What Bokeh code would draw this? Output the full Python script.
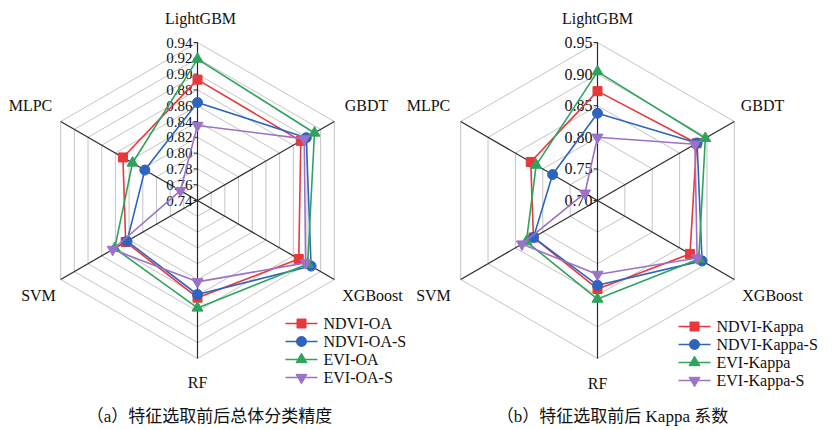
import numpy as np
from bokeh.plotting import figure
from bokeh.models import Range1d
from bokeh.core.properties import value
from bokeh.embed import file_html
from bokeh.resources import INLINE

# ---------------- data ----------------
models = ["LightGBM", "GBDT", "XGBoost", "RF", "SVM", "MLPC"]

oa_ticks = [0.74, 0.76, 0.78, 0.80, 0.82, 0.84, 0.86, 0.88, 0.90, 0.92, 0.94]
oa_tick_labels = ["0.74", "0.76", "0.78", "0.80", "0.82", "0.84", "0.86", "0.88", "0.90", "0.92", "0.94"]
ndvi_oa = [0.893, 0.891, 0.888, 0.863, 0.845, 0.849]
ndvi_oa_s = [0.864, 0.899, 0.906, 0.859, 0.843, 0.817]
evi_oa = [0.919, 0.911, 0.901, 0.876, 0.861, 0.835]
evi_oa_s = [0.835, 0.896, 0.898, 0.843, 0.864, 0.765]
oa_names = ["NDVI-OA", "NDVI-OA-S", "EVI-OA", "EVI-OA-S"]

kappa_ticks = [0.70, 0.75, 0.80, 0.85, 0.90, 0.95]
kappa_tick_labels = ["0.70", "0.75", "0.80", "0.85", "0.90", "0.95"]
ndvi_kappa = [0.873, 0.881, 0.869, 0.840, 0.817, 0.822]
ndvi_kappa_s = [0.838, 0.882, 0.891, 0.834, 0.817, 0.782]
evi_kappa = [0.904, 0.897, 0.885, 0.856, 0.830, 0.812]
evi_kappa_s = [0.800, 0.878, 0.882, 0.817, 0.838, 0.723]
kappa_names = ["NDVI-Kappa", "NDVI-Kappa-S", "EVI-Kappa", "EVI-Kappa-S"]

captions = ["（a）特征选取前后总体分类精度", "（b）特征选取前后 Kappa 系数"]

# ---------------- style ----------------
colors = ["#E8383A", "#2D64BE", "#2FA35E", "#9B72C8"]
markers = ["square", "circle", "triangle", "inverted_triangle"]
msizes = [9, 10, 11, 11]
SERIF = value("Liberation Serif")
CAPFONT = value("Liberation Serif, Noto Sans CJK SC")

W, H = 833, 430
p = figure(width=W, height=H, x_range=Range1d(0, W), y_range=Range1d(H, 0),
           output_backend="svg", toolbar_location=None, min_border=0)
p.axis.visible = False
p.grid.visible = False
p.outline_line_color = None
p.background_fill_color = "white"

angles = np.deg2rad([90, 30, -30, -90, -150, 150])
R = 158.0


def radar(cx, cy, ticks, tick_labels, series, names, label_pos, legend_x, legend_y, legend_dy, tick_font):
    vmin, vmax = ticks[0], ticks[-1]

    def rad(v):
        return (np.asarray(v) - vmin) / (vmax - vmin) * R

    # rings
    xs, ys = [], []
    for t in ticks[1:]:
        r = rad(t)
        px = list(cx + r * np.cos(angles)) + [cx + r * np.cos(angles[0])]
        py = list(cy - r * np.sin(angles)) + [cy - r * np.sin(angles[0])]
        xs.append(px)
        ys.append(py)
    p.multi_line(xs, ys, line_color="#C4C4C4", line_width=1)
    # spokes
    p.segment(x0=[cx] * 6, y0=[cy] * 6, x1=list(cx + R * np.cos(angles)), y1=list(cy - R * np.sin(angles)),
              line_color="#2A2A2A", line_width=1.2)
    # tick marks + labels on top axis
    ty = [cy - rad(t) for t in ticks]
    p.segment(x0=[cx - 4] * len(ticks), y0=ty, x1=[cx] * len(ticks), y1=ty, line_color="#2A2A2A", line_width=1)
    p.text(x=[cx - 5] * len(ticks), y=ty, text=tick_labels, text_align="right", text_baseline="middle",
           text_font=SERIF, text_font_size=tick_font, text_color="#111111")
    # category labels
    p.text(x=[q[0] for q in label_pos], y=[q[1] for q in label_pos], text=models, text_align="center",
           text_baseline="middle", text_font=SERIF, text_font_size="16px", text_color="#111111")
    # series
    for vals, col, mk, ms in zip(series, colors, markers, msizes):
        r = rad(vals)
        x = list(cx + r * np.cos(angles))
        y = list(cy - r * np.sin(angles))
        p.line(x + [x[0]], y + [y[0]], line_color=col, line_width=1.6)
        p.scatter(x, y, marker=mk, size=ms, fill_color=col, line_color=col)
    # legend
    for i, (nm, col, mk, ms) in enumerate(zip(names, colors, markers, msizes)):
        yy = legend_y + i * legend_dy
        p.line([legend_x, legend_x + 32], [yy, yy], line_color=col, line_width=1.6)
        p.scatter([legend_x + 16], [yy], marker=mk, size=ms, fill_color=col, line_color=col)
    p.text(x=[legend_x + 38] * 4, y=[legend_y + i * legend_dy for i in range(4)], text=names,
           text_align="left", text_baseline="middle", text_font=SERIF, text_font_size="16px",
           text_color="#111111")


radar(197, 200, oa_ticks, oa_tick_labels, [ndvi_oa, ndvi_oa_s, evi_oa, evi_oa_s], oa_names,
      [(200, 18), (366, 105), (372, 295), (197, 382), (38, 295), (30, 105)],
      285, 323, 18, "15px")
radar(597, 200, kappa_ticks, kappa_tick_labels, [ndvi_kappa, ndvi_kappa_s, evi_kappa, evi_kappa_s], kappa_names,
      [(597, 18), (762, 105), (772, 295), (597, 383), (433, 295), (428, 105)],
      678, 326, 18, "16px")

p.text(x=[209, 612], y=[416, 416], text=captions, text_align="center", text_baseline="middle",
       text_font=CAPFONT, text_font_size="17px", text_color="#111111")

open("out.html", "w").write(file_html(p, INLINE))
